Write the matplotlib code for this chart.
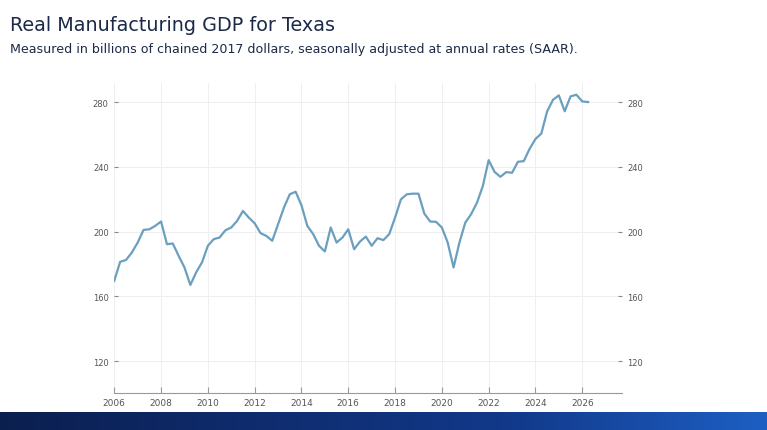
import numpy as np
import matplotlib.pyplot as plt
from matplotlib.colors import LinearSegmentedColormap

start_year = 2006
values = [169.6,181.3,182.4,187.0, 193.2,201.0,201.4,203.5, 206.2,192.2,192.6,185.0,
          177.8,167.0,174.8,181.0, 191.2,195.3,196.3,200.8, 202.5,206.6,212.7,208.6,
          205.1,199.0,197.3,194.3, 204.5,214.8,223.0,224.6, 216.2,203.5,198.4,191.2,
          187.7,202.5,193.2,196.3, 201.4,189.1,193.8,196.9, 191.2,195.9,194.7,198.4,
          208.6,219.9,223.0,223.4, 223.4,211.1,206.2,206.0, 202.5,193.2,177.8,193.2,
          205.5,210.7,217.8,228.1, 244.1,236.9,233.8,236.7, 236.3,243.1,243.5,251.1,
          257.2,260.5,274.3,281.4, 284.1,274.3,283.5,284.5, 280.4,280.0]
x = start_year + np.arange(len(values)) / 4
yticks = [120, 160, 200, 240, 280]
xticks = list(range(2006, 2027, 2))

fig = plt.figure(figsize=(7.67, 4.31), dpi=100)
fig.text(0.013, 0.94, "Real Manufacturing GDP for Texas", fontsize=13.8, color="#1b2a48", va="center")
fig.text(0.013, 0.885, "Measured in billions of chained 2017 dollars, seasonally adjusted at annual rates (SAAR).",
         fontsize=9.1, color="#1b2a48", va="center")

ax = fig.add_axes([0.149, 0.086, 0.662, 0.72])
ax.plot(x, values, color="#6a9fbf", lw=1.6)
ax.set_xlim(2006, 2027.7)
ax.set_ylim(100.3, 292)
ax.set_yticks(yticks)
ax.set_xticks(xticks)
ax.grid(True, color="#efefef", lw=0.7)
for s in ["top", "right", "left"]:
    ax.spines[s].set_visible(False)
ax.spines["bottom"].set_color("#999999")
ax.tick_params(axis="y", labelsize=6, colors="#555555", length=3, left=True, right=True,
               labelright=True, color="#888888", direction="in", pad=4)
ax.tick_params(axis="x", labelsize=6.5, colors="#555555", length=4, color="#999999", direction="in")

bar = fig.add_axes([0, 0, 1, 0.042])
grad = np.linspace(0, 1, 256)[None, :]
cm = LinearSegmentedColormap.from_list("b", ["#0b1f4f", "#0f2c6e", "#12398a", "#1d5fc4"])
bar.imshow(grad, aspect="auto", cmap=cm, extent=[0, 1, 0, 1])
bar.axis("off")
fig.savefig("out.png", dpi=100)
